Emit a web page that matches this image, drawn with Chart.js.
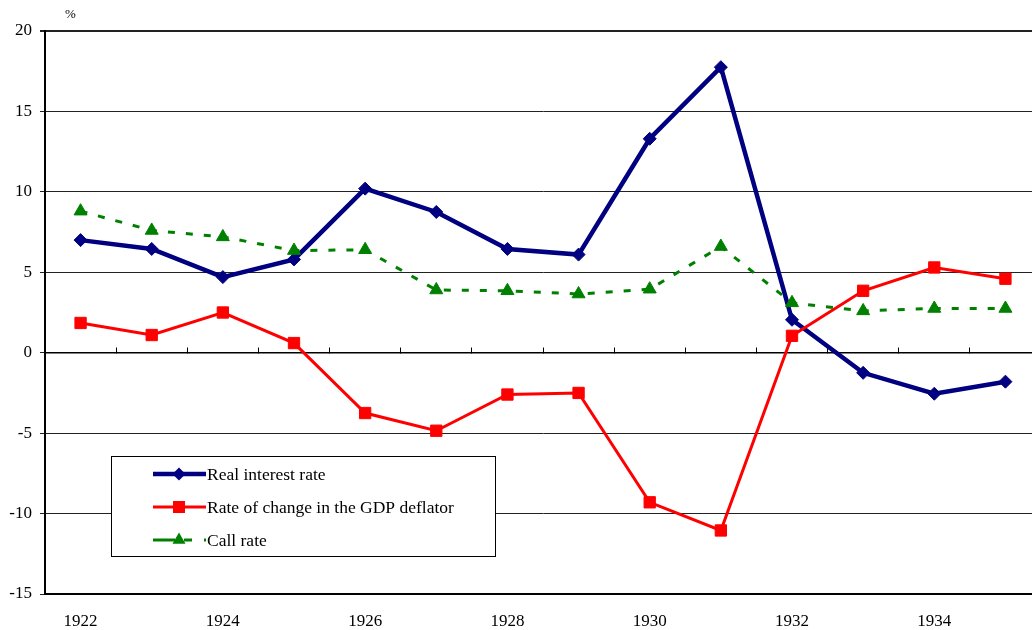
<!DOCTYPE html>
<html>
<head>
<meta charset="utf-8">
<script src="https://cdn.jsdelivr.net/npm/chart.js@4.4.1/dist/chart.umd.min.js"></script>
<style>
  html, body { margin: 0; padding: 0; background: #fff; overflow: hidden; }
  #wrap { position: relative; width: 1050px; height: 630px; }
</style>
</head>
<body>
<div id="wrap"><canvas id="c"></canvas></div>
<script>
const years = ['1922','1923','1924','1925','1926','1927','1928','1929','1930','1931','1932','1933','1934','1935'];
const realRate = [7.0, 6.45, 4.7, 5.8, 10.2, 8.75, 6.45, 6.1, 13.3, 17.75, 2.05, -1.25, -2.55, -1.8];
const deflator = [1.85, 1.1, 2.5, 0.6, -3.75, -4.85, -2.6, -2.5, -9.3, -11.05, 1.05, 3.85, 5.3, 4.6];
const callRate = [8.8, 7.6, 7.2, 6.35, 6.4, 3.9, 3.85, 3.65, 3.95, 6.6, 3.1, 2.6, 2.75, 2.75];
const seriesNames = ['Real interest rate', 'Rate of change in the GDP deflator', 'Call rate'];
const yTicks = { min: -15, max: 20, step: 5 };
const unitLabel = '%';

const FONT = '"Liberation Serif", "Times New Roman", serif';
const NAVY = '#000080', RED = '#FF0000', GREEN = '#008000';

function drawMarker(ctx, style, x, y, r, color) {
  ctx.save();
  ctx.fillStyle = color;
  ctx.beginPath();
  if (style === 'rectRot') {
    ctx.moveTo(x, y - r); ctx.lineTo(x + r, y); ctx.lineTo(x, y + r); ctx.lineTo(x - r, y);
  } else if (style === 'rect') {
    const s = Math.SQRT1_2 * r;
    ctx.rect(x - s, y - s, 2 * s, 2 * s);
  } else if (style === 'triangle') {
    ctx.moveTo(x, y - r); ctx.lineTo(x + r * 0.866, y + r * 0.5); ctx.lineTo(x - r * 0.866, y + r * 0.5);
  }
  ctx.closePath();
  ctx.fill();
  ctx.restore();
}

const legendPlugin = {
  id: 'boxLegend',
  afterDraw(chart) {
    const ctx = chart.ctx;
    ctx.save();
    ctx.fillStyle = '#000';
    ctx.font = '13px ' + FONT;
    ctx.textBaseline = 'middle';
    ctx.textAlign = 'left';
    ctx.fillText(unitLabel, 65, 15);

    const bx = 111.5, by = 456.5, bw = 384, bh = 100;
    ctx.fillStyle = '#fff';
    ctx.fillRect(bx, by, bw, bh);
    ctx.strokeStyle = '#000';
    ctx.lineWidth = 1;
    ctx.strokeRect(bx, by, bw, bh);

    const rows = [
      { name: seriesNames[0], color: NAVY, width: 4.5, dash: [], style: 'rectRot', r: 6.5, y: 474 },
      { name: seriesNames[1], color: RED, width: 3, dash: [], style: 'rect', r: 8.5, y: 507 },
      { name: seriesNames[2], color: GREEN, width: 3, dash: [22, 9, 8, 12], style: 'triangle', r: 7.5, y: 540 }
    ];
    const x1 = 153, x2 = 206, xm = 179;
    ctx.font = '17.5px ' + FONT;
    rows.forEach(rw => {
      ctx.save();
      ctx.strokeStyle = rw.color;
      ctx.lineWidth = rw.width;
      ctx.setLineDash(rw.dash);
      ctx.beginPath();
      ctx.moveTo(x1, rw.y); ctx.lineTo(x2, rw.y);
      ctx.stroke();
      ctx.restore();
      drawMarker(ctx, rw.style, xm, rw.y, rw.r, rw.color);
      ctx.fillStyle = '#000';
      ctx.fillText(rw.name, 207, rw.y + 1);
    });
    ctx.restore();
  }
};

new Chart(document.getElementById('c'), {
  type: 'line',
  data: {
    labels: years,
    datasets: [
      {
        label: seriesNames[0], data: realRate, xAxisID: 'x', yAxisID: 'y',
        borderColor: NAVY, backgroundColor: NAVY, borderWidth: 4.5,
        pointStyle: 'rectRot', pointRadius: 6.5, pointBorderWidth: 1,
        pointBackgroundColor: NAVY, pointBorderColor: NAVY,
        tension: 0, order: 3
      },
      {
        label: seriesNames[1], data: deflator, xAxisID: 'x', yAxisID: 'y',
        borderColor: RED, backgroundColor: RED, borderWidth: 3,
        pointStyle: 'rect', pointRadius: 8, pointBorderWidth: 1,
        pointBackgroundColor: RED, pointBorderColor: RED,
        tension: 0, order: 2
      },
      {
        label: seriesNames[2], data: callRate, xAxisID: 'x', yAxisID: 'y',
        borderColor: GREEN, backgroundColor: GREEN, borderWidth: 3,
        borderDash: [7, 11], borderCapStyle: 'butt',
        pointStyle: 'triangle', pointRadius: 7.5, pointBorderWidth: 1,
        pointBackgroundColor: GREEN, pointBorderColor: GREEN,
        tension: 0, order: 1
      }
    ]
  },
  options: {
    responsive: true,
    maintainAspectRatio: false,
    animation: false,
    events: [],
    layout: { padding: { top: 31, right: 7, left: 0, bottom: 0 } },
    plugins: { legend: { display: false }, tooltip: { enabled: false } },
    scales: {
      x: {
        type: 'category',
        position: 'bottom',
        offset: true,
        grid: { display: true, drawOnChartArea: false, drawTicks: false, tickLength: 0 },
        border: { display: true, color: '#000', width: 2 },
        ticks: {
          autoSkip: false, maxRotation: 0, minRotation: 0, padding: 17,
          color: '#000', font: { family: FONT, size: 17 },
          callback: (v, i) => (i % 2 === 0 ? years[i] : '')
        },
        afterFit: (s) => { s.height = 36; }
      },
      x0: {
        type: 'category',
        position: { y: 0 },
        offset: true,
        grid: { display: true, drawOnChartArea: false, offset: true, tickLength: -6, color: '#000', lineWidth: 1 },
        border: { display: true, color: '#000', width: 1.5 },
        ticks: { display: false }
      },
      y: {
        type: 'linear',
        position: 'left',
        min: yTicks.min, max: yTicks.max,
        ticks: {
          stepSize: yTicks.step, padding: 8, color: '#000',
          font: { family: FONT, size: 17 }
        },
        grid: {
          color: '#222',
          lineWidth: (c) => (c.tick && c.tick.value === yTicks.max ? 2 : 1),
          tickLength: 5
        },
        border: { display: true, color: '#000', width: 2 },
        afterFit: (s) => { s.width = 45; }
      }
    }
  },
  plugins: [legendPlugin]
});
</script>
</body>
</html>
